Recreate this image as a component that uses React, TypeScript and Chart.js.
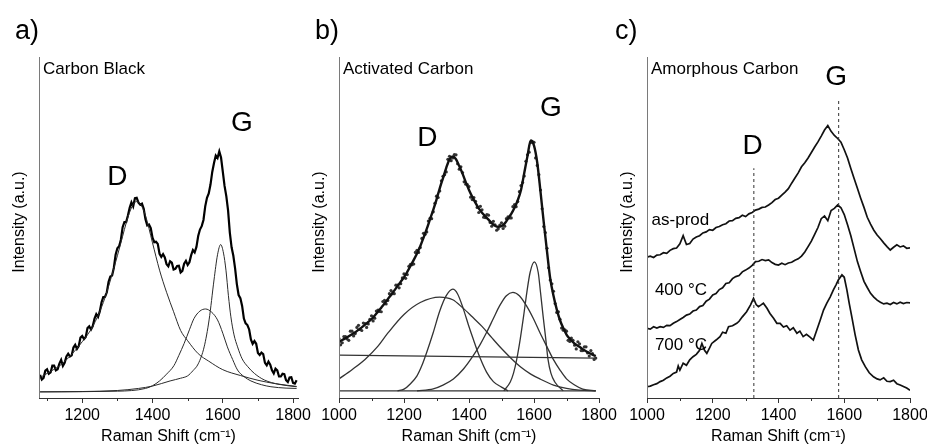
import React, { useEffect, useRef } from 'react';
import { Chart, registerables } from 'chart.js';

Chart.register(...registerables);

const FONT = "'Liberation Sans', Arial, Helvetica, sans-serif";

// ---------------- Panel a) Carbon Black ----------------
const A_X = [1080,1090,1100,1110,1120,1130,1140,1150,1160,1170,1180,1190,1200,1210,1220,1230,1240,1250,1260,1270,1280,1290,1300,1310,1320,1330,1340,1350,1360,1370,1380,1390,1400,1410,1420,1430,1440,1450,1460,1470,1480,1490,1500,1510,1520,1530,1540,1550,1560,1570,1580,1590,1600,1610,1620,1630,1640,1650,1660,1670,1680,1690,1700,1710,1720,1730,1740,1750,1760,1770,1780,1790,1800,1810];
const A_DATA = [6.8,5.9,8.4,7.5,9.5,8.4,11.2,10.3,13.0,12.5,15.6,15.2,18.2,17.9,21.0,21.1,24.6,25.4,29.6,31.0,35.6,38.2,43.9,46.4,51.6,53.5,57.4,58.6,57.3,57.0,52.4,50.9,47.0,45.8,42.3,42.2,39.2,40.1,37.7,38.7,36.8,39.4,39.0,41.9,42.7,47.5,50.4,56.2,60.0,66.3,71.1,72.3,66.4,59.2,48.5,41.7,33.4,29.3,23.3,21.4,17.2,16.7,13.2,13.3,10.3,10.7,8.1,8.6,6.3,7.1,5.2,6.0,4.4,5.2];
const A_X2 = [1085,1095,1105,1115,1125,1135,1145,1155,1165,1175,1185,1195,1205,1215,1225,1235,1245,1255,1265,1275,1285,1295,1305,1315,1325,1335,1345,1355,1365,1375,1385,1395,1405,1415,1425,1435,1445,1455,1465,1475,1485,1495,1505,1515,1525,1535,1545,1555,1565,1575,1585,1595,1605,1615,1625,1635,1645,1655,1665,1675,1685,1695,1705,1715,1725,1735,1745,1755,1765,1775,1785,1795,1805];
const A_DATA2 = [5.4,8.0,7.1,9.5,8.1,10.1,9.4,12.2,12.2,14.8,14.4,17.7,17.3,20.5,20.1,23.3,23.8,28.1,29.7,34.1,35.9,42.0,44.5,50.1,51.6,55.8,56.2,58.7,56.7,55.5,50.6,49.8,45.7,45.2,41.4,41.2,38.6,39.7,37.9,38.8,37.3,40.2,39.8,43.4,44.3,49.4,52.2,58.7,62.6,68.9,70.4,70.5,62.2,55.0,44.2,38.0,30.2,27.0,21.9,20.1,15.9,15.9,12.6,12.9,9.6,9.8,7.2,8.1,6.3,7.0,4.7,6.1,4.2];
const A_D_X = [1080,1110,1140,1170,1200,1230,1260,1290,1310,1330,1345,1355,1365,1380,1400,1420,1440,1460,1480,1500,1530,1560,1600,1650,1700,1750,1810];
const A_D_Y = [6.0,7.8,9.8,12.8,16.5,21.0,28.0,38.0,45.5,53.0,56.8,57.6,57.0,53.5,45.5,37.5,31.0,25.3,19.8,16.8,13.0,10.8,8.3,6.6,5.2,4.2,3.4];
const A_G_X = [1080,1200,1300,1360,1400,1450,1480,1500,1515,1530,1547,1561,1575,1585,1594,1602,1609,1616,1623,1632,1642,1655,1671,1690,1718,1760,1810];
const A_G_Y = [1.8,1.9,2.2,2.8,3.5,5.0,5.8,6.5,8.0,10.0,15.0,22.9,34.6,42.0,45.0,42.5,37.5,30.0,23.8,18.5,15.0,11.5,9.2,7.2,5.3,4.0,3.3];
const A_M_X = [1080,1300,1380,1400,1420,1440,1461,1475,1490,1505,1518,1535,1551,1568,1585,1600,1613,1628,1642,1660,1680,1710,1737,1780,1810];
const A_M_Y = [1.8,2.0,2.8,3.6,5.0,7.0,9.5,12.5,16.0,20.0,23.3,25.5,26.1,25.2,22.9,19.0,15.0,11.3,8.2,6.3,5.0,3.9,3.3,2.9,2.8];

// ---------------- Panel b) Activated Carbon ----------------
const B_X = [1000,1010,1020,1030,1040,1050,1060,1070,1080,1090,1100,1110,1120,1130,1140,1150,1160,1170,1180,1190,1200,1210,1220,1230,1240,1250,1260,1270,1280,1290,1300,1310,1320,1330,1340,1350,1360,1370,1380,1390,1400,1410,1420,1430,1440,1450,1460,1470,1480,1490,1500,1510,1520,1530,1540,1550,1560,1570,1580,1590,1600,1610,1620,1630,1640,1650,1660,1670,1680,1690,1700,1710,1720,1730,1740,1750,1760,1770,1780,1790];
const B_FIT = [16.4,17.0,17.5,18.1,18.7,19.3,20.0,20.7,21.5,22.3,23.1,24.2,25.3,26.5,27.7,29.0,30.2,31.5,32.8,34.1,35.4,37.0,38.7,40.5,42.4,44.5,47.0,49.6,52.4,55.2,58.2,61.5,64.5,67.5,70.0,70.8,70.0,68.0,65.8,63.3,61.0,59.0,57.2,55.6,54.3,53.3,52.3,51.3,50.5,50.2,50.4,51.2,52.6,54.0,55.8,58.0,61.0,66.0,71.0,75.5,74.0,69.0,60.5,51.5,43.0,35.0,30.0,26.0,22.8,20.5,18.6,17.4,16.4,15.6,15.0,14.3,13.7,13.2,12.7,12.3];
const B_PTS = [17.4,16.2,18.0,16.9,19.6,18.9,21.3,19.8,21.8,21.7,24.1,23.4,25.8,25.3,28.6,28.6,31.5,30.6,33.1,33.5,36.4,36.2,39.2,39.3,43.3,44.1,48.3,48.7,52.7,54.6,59.2,60.7,65.0,66.3,70.9,70.4,71.3,67.1,66.1,62.7,62.0,58.2,57.7,54.4,55.2,52.9,53.6,50.4,50.8,49.6,51.4,50.4,53.1,52.8,56.7,57.6,62.3,65.1,71.3,74.9,75.0,68.2,61.0,50.3,43.9,34.6,31.3,25.1,23.1,19.9,19.6,16.6,16.9,14.4,15.9,13.9,15.0,12.3,13.0,11.7];
const B_X2 = [1005,1015,1025,1035,1045,1055,1065,1075,1085,1095,1105,1115,1125,1135,1145,1155,1165,1175,1185,1195,1205,1215,1225,1235,1245,1255,1265,1275,1285,1295,1305,1315,1325,1335,1345,1355,1365,1375,1385,1395,1405,1415,1425,1435,1445,1455,1465,1475,1485,1495,1505,1515,1525,1535,1545,1555,1565,1575,1585,1595,1605,1615,1625,1635,1645,1655,1665,1675,1685,1695,1705,1715,1725,1735,1745,1755,1765,1775,1785];
const B_PTS2 = [15.6,18.0,17.3,19.6,18.2,20.7,20.1,22.0,20.7,23.1,22.6,25.5,25.4,28.3,27.6,30.6,30.6,33.1,32.3,35.2,35.1,38.6,39.1,42.7,42.7,46.8,48.0,51.9,52.6,57.1,58.8,63.7,65.5,70.0,69.6,71.4,68.7,67.8,63.4,62.6,58.9,58.8,55.9,56.2,53.0,53.8,51.5,51.8,49.2,50.7,49.7,52.6,52.8,56.1,56.1,60.5,63.2,69.4,72.1,75.2,70.4,65.5,55.5,48.5,38.2,33.5,27.7,25.3,20.5,20.0,16.9,17.6,15.5,16.5,13.9,15.0,13.2,13.9,11.3];
const B_BASE1_X = [1000,1790];
const B_BASE1_Y = [12.6,11.7];
const B_BASE2_X = [1000,1790];
const B_BASE2_Y = [2.1,2.1];
const B_A_X = [1000,1040,1080,1120,1150,1200,1250,1310,1350,1380,1410,1440,1470,1500,1530,1560,1590,1620,1660,1700,1740,1790];
const B_A_Y = [5.6,8.3,11.3,15.2,19.0,24.5,28.0,29.6,28.8,26.5,23.8,21.0,17.7,14.5,11.6,9.0,7.0,5.5,3.8,2.8,2.3,2.1];
const B_B_X = [1180,1200,1220,1240,1255,1270,1290,1310,1330,1350,1365,1383,1398,1413,1433,1454,1475,1500,1520];
const B_B_Y = [2.1,2.6,4.2,6.5,9.5,13.4,19.2,25.5,30.0,31.9,30.5,26.0,21.5,17.3,12.0,7.6,4.8,3.2,2.1];
const B_C_X = [1240,1290,1320,1352,1383,1413,1435,1454,1475,1494,1515,1535,1555,1577,1598,1618,1640,1659,1680,1700,1725,1750,1790];
const B_C_Y = [2.1,2.7,3.8,5.6,8.5,12.4,15.8,19.2,23.3,27.0,30.0,31.0,30.0,27.0,23.3,19.2,15.0,11.4,8.2,5.6,3.8,2.6,2.1];
const B_D_X = [1507,1527,1537,1547,1558,1568,1578,1588,1601,1613,1620,1628,1636,1643,1652,1664,1690];
const B_D_Y = [2.1,4.7,7.3,11.4,17.5,24.0,31.0,36.8,39.9,36.8,31.0,24.0,17.5,11.4,7.3,4.7,2.1];

// ---------------- Panel c) Amorphous Carbon ----------------
const C_X = [1000,1010,1020,1030,1040,1050,1060,1070,1080,1090,1100,1110,1120,1130,1140,1150,1160,1170,1180,1190,1200,1210,1220,1230,1240,1250,1260,1270,1280,1290,1300,1310,1320,1330,1340,1350,1360,1370,1380,1390,1400,1410,1420,1430,1440,1450,1460,1470,1480,1490,1500,1510,1520,1530,1540,1550,1560,1570,1580,1590,1600,1610,1620,1630,1640,1650,1660,1670,1680,1690,1700,1710,1720,1730,1740,1750,1760,1770,1780,1790,1800];
const C_ASPROD = [41.3,41.6,41.2,41.9,42.0,42.6,42.4,43.3,43.8,44.0,45.2,47.6,45.0,45.3,46.6,47.2,47.6,48.4,48.7,49.4,49.2,50.0,50.3,50.8,51.1,51.9,52.0,52.7,52.9,53.6,53.2,54.0,54.4,55.1,55.4,55.9,56.0,56.6,57.3,58.2,58.6,59.5,60.4,61.4,63.0,64.5,66.0,67.8,69.0,70.4,72.0,73.6,75.1,76.8,78.6,79.9,78.2,77.0,76.1,75.0,72.8,70.4,67.3,64.4,61.5,58.6,55.9,53.0,51.0,49.2,47.8,46.7,45.5,44.4,43.4,44.2,44.9,44.3,44.6,43.9,44.0];
const C_400 = [20.4,20.2,20.9,20.5,20.9,20.7,21.3,21.2,21.9,22.4,23.0,23.6,24.3,24.6,25.5,25.8,26.8,27.1,28.4,29.0,30.2,30.6,31.8,32.3,33.6,33.8,35.0,35.6,35.9,37.0,37.5,38.1,38.9,40.0,40.1,40.6,40.3,40.5,39.7,39.2,39.0,39.5,39.1,39.6,39.8,40.4,40.8,41.6,42.8,44.4,46.0,48.0,50.0,52.6,53.4,52.0,55.0,55.6,56.6,55.8,53.8,50.8,47.6,43.8,40.0,37.0,34.2,32.4,30.7,29.6,28.7,28.1,27.6,27.8,27.4,28.0,27.6,28.1,27.7,28.0,27.9];
const C_700_X = [1000,1010,1020,1030,1040,1050,1060,1070,1080,1090,1095,1100,1110,1120,1130,1140,1150,1160,1167,1175,1182,1190,1197,1210,1222,1230,1240,1248,1260,1273,1280,1290,1303,1315,1324,1332,1339,1347,1354,1365,1374,1385,1395,1405,1415,1425,1435,1445,1456,1465,1475,1485,1495,1506,1516,1527,1537,1547,1557,1567,1575,1582,1593,1600,1608,1615,1623,1633,1643,1653,1664,1676,1689,1700,1709,1720,1730,1740,1750,1760,1770,1780,1790,1800];
const C_700 = [3.3,3.5,3.9,4.2,4.8,5.2,5.9,6.4,7.2,7.6,9.4,8.2,10.2,9.6,11.2,12.1,12.8,14.0,16.0,14.0,13.1,14.6,16.0,17.0,18.0,19.3,19.0,20.9,21.2,21.9,22.5,23.8,25.3,27.3,29.2,27.4,26.8,27.3,27.8,26.3,24.8,23.4,21.9,21.9,20.8,21.2,19.9,20.6,19.0,19.6,18.0,18.7,17.9,17.0,19.8,22.9,25.8,27.8,29.6,31.7,33.2,34.6,36.1,35.4,31.7,27.8,23.8,18.6,14.1,11.2,9.2,7.4,6.2,5.6,5.3,5.9,4.9,4.8,5.2,4.2,3.8,3.4,2.9,2.3];
const C_DLINE_X = [1325,1325];
const C_DLINE_Y = [0,67.4];
const C_GLINE_X = [1583,1583];
const C_GLINE_Y = [0,87.4];

const MAJORS_A = [1200,1400,1600,1800];
const MINORS_A = [1100,1300,1500,1700];
const MAJORS_BC = [1000,1200,1400,1600,1800];
const MINORS_BC = [1100,1300,1500,1700];

type Series = {
  xs: number[]; ys: number[]; color: string; width: number;
  dash?: number[]; smooth?: boolean; points?: number;
};
type Label = { text: string; x: number; y: number; size: number; align: CanvasTextAlign };
type Spec = {
  xMin: number; xMax: number; majors: number[]; minors: number[];
  padLeft: number; padRight: number; letter: string; letterX: number;
  title: string; series: Series[]; labels: Label[];
};

// merge two sampled traces into one ordered trace (for a denser noisy spectrum)
function merge(x1: number[], y1: number[], x2: number[], y2: number[]) {
  const pts = x1.map((x, i) => [x, y1[i]]).concat(x2.map((x, i) => [x, y2[i]]));
  pts.sort((a, b) => a[0] - b[0]);
  return { xs: pts.map((p) => p[0]), ys: pts.map((p) => p[1]) };
}
const A_MERGED = merge(A_X, A_DATA, A_X2, A_DATA2);

const SPECS: Spec[] = [
  {
    xMin: 1077, xMax: 1814, majors: MAJORS_A, minors: MINORS_A,
    padLeft: 39, padRight: 629, letter: 'a)', letterX: 15, title: 'Carbon Black',
    series: [
      { xs: A_M_X, ys: A_M_Y, color: '#2a2a2a', width: 1, smooth: true },
      { xs: A_G_X, ys: A_G_Y, color: '#2a2a2a', width: 1, smooth: true },
      { xs: A_D_X, ys: A_D_Y, color: '#2a2a2a', width: 1, smooth: true },
      { xs: A_MERGED.xs, ys: A_MERGED.ys, color: '#000', width: 2.2 },
    ],
    labels: [
      { text: 'D', x: 1300, y: 64.8, size: 28, align: 'center' },
      { text: 'G', x: 1654, y: 80.6, size: 28, align: 'center' },
    ],
  },
  {
    xMin: 1000, xMax: 1800, majors: MAJORS_BC, minors: MINORS_BC,
    padLeft: 339, padRight: 328, letter: 'b)', letterX: 315, title: 'Activated Carbon',
    series: [
      { xs: B_BASE1_X, ys: B_BASE1_Y, color: '#333', width: 1.3 },
      { xs: B_BASE2_X, ys: B_BASE2_Y, color: '#333', width: 1.3 },
      { xs: B_A_X, ys: B_A_Y, color: '#333', width: 1.3, smooth: true },
      { xs: B_B_X, ys: B_B_Y, color: '#333', width: 1.3, smooth: true },
      { xs: B_C_X, ys: B_C_Y, color: '#333', width: 1.3, smooth: true },
      { xs: B_D_X, ys: B_D_Y, color: '#333', width: 1.3, smooth: true },
      { xs: B_X, ys: B_FIT, color: '#111', width: 2.4, smooth: true },
      { xs: B_X, ys: B_PTS, color: '#333', width: 0, points: 1.6 },
      { xs: B_X2, ys: B_PTS2, color: '#333', width: 0, points: 1.6 },
    ],
    labels: [
      { text: 'D', x: 1272, y: 76.3, size: 28, align: 'center' },
      { text: 'G', x: 1652, y: 85.1, size: 28, align: 'center' },
    ],
  },
  {
    xMin: 1000, xMax: 1800, majors: MAJORS_BC, minors: MINORS_BC,
    padLeft: 647, padRight: 17, letter: 'c)', letterX: 615, title: 'Amorphous Carbon',
    series: [
      { xs: C_DLINE_X, ys: C_DLINE_Y, color: '#333', width: 1, dash: [3, 3] },
      { xs: C_GLINE_X, ys: C_GLINE_Y, color: '#333', width: 1, dash: [3, 3] },
      { xs: C_X, ys: C_ASPROD, color: '#111', width: 1.7 },
      { xs: C_X, ys: C_400, color: '#111', width: 1.7 },
      { xs: C_700_X, ys: C_700, color: '#111', width: 1.7 },
    ],
    labels: [
      { text: 'G', x: 1575, y: 94, size: 28, align: 'center' },
      { text: 'D', x: 1321, y: 73.7, size: 28, align: 'center' },
      { text: 'as-prod', x: 1014, y: 52.2, size: 17, align: 'left' },
      { text: '400 °C', x: 1024, y: 31.7, size: 17, align: 'left' },
      { text: '700 °C', x: 1024, y: 15.5, size: 17, align: 'left' },
    ],
  },
];

function makeOverlay(spec: Spec) {
  return {
    id: 'overlay',
    afterDraw(chart: any) {
      const { ctx, chartArea: ca, scales } = chart;
      const xs = scales.x;
      const ys = scales.y;
      ctx.save();
      // y axis line
      const lx = Math.round(ca.left) + 0.5;
      ctx.strokeStyle = '#7a7a7a';
      ctx.lineWidth = 1;
      ctx.beginPath();
      ctx.moveTo(lx, ca.top);
      ctx.lineTo(lx, ca.bottom);
      ctx.stroke();
      // minor ticks
      ctx.strokeStyle = '#333';
      ctx.beginPath();
      for (const v of spec.minors) {
        const px = Math.round(xs.getPixelForValue(v)) + 0.5;
        ctx.moveTo(px, ca.bottom);
        ctx.lineTo(px, ca.bottom + 3);
      }
      ctx.stroke();
      ctx.fillStyle = '#000';
      ctx.textBaseline = 'middle';
      // y title
      ctx.save();
      ctx.translate(ca.left - 19, 222);
      ctx.rotate(-Math.PI / 2);
      ctx.textAlign = 'center';
      ctx.font = `16px ${FONT}`;
      ctx.fillText('Intensity (a.u.)', 0, 0);
      ctx.restore();
      // panel letter
      ctx.textAlign = 'left';
      ctx.font = `27px ${FONT}`;
      ctx.fillText(spec.letter, spec.letterX, 32);
      // panel title
      ctx.font = `17px ${FONT}`;
      ctx.fillText(spec.title, ca.left + 4, ca.top + 12);
      // labels
      for (const l of spec.labels) {
        ctx.font = `${l.size}px ${FONT}`;
        ctx.textAlign = l.align;
        ctx.fillText(l.text, xs.getPixelForValue(l.x), ys.getPixelForValue(l.y));
      }
      ctx.restore();
    },
  };
}

function Panel({ spec }: { spec: Spec }) {
  const ref = useRef<HTMLCanvasElement | null>(null);
  useEffect(() => {
    if (!ref.current) return;
    const datasets = spec.series.map((s) => ({
      data: s.xs.map((x, i) => ({ x, y: s.ys[i] })),
      borderColor: s.color,
      backgroundColor: s.color,
      borderWidth: s.width,
      borderDash: s.dash || [],
      pointRadius: s.points ? s.points : 0,
      pointBorderWidth: 0,
      showLine: !s.points,
      tension: s.smooth ? 0.4 : 0,
      cubicInterpolationMode: s.smooth ? 'monotone' : 'default',
      fill: false,
    }));
    const chart = new Chart(ref.current, {
      type: 'line',
      data: { datasets },
      plugins: [makeOverlay(spec)],
      options: {
        responsive: false,
        animation: false,
        events: [],
        layout: { padding: { left: spec.padLeft, right: spec.padRight, top: 57, bottom: 0 } },
        plugins: { legend: { display: false }, tooltip: { enabled: false } },
        scales: {
          x: {
            type: 'linear',
            min: spec.xMin,
            max: spec.xMax,
            afterBuildTicks: (sc: any) => {
              sc.ticks = spec.majors.map((v) => ({ value: v }));
            },
            afterFit: (sc: any) => {
              sc.paddingLeft = 0;
              sc.paddingRight = 0;
            },
            ticks: {
              autoSkip: false,
              maxRotation: 0,
              minRotation: 0,
              padding: 5,
              color: '#000',
              font: { family: FONT, size: 16, lineHeight: 1 },
              callback: (v: any) => String(v),
            },
            grid: { display: true, drawOnChartArea: false, drawTicks: true, tickLength: 5, tickColor: '#333', tickWidth: 1 },
            border: { display: true, color: '#333', width: 1 },
            title: {
              display: true,
              text: 'Raman Shift (cm⁻¹)',
              color: '#000',
              font: { family: FONT, size: 16, lineHeight: 1 },
              padding: { top: 0, bottom: 0 },
            },
          },
          y: { type: 'linear', min: 0, max: 100, display: false },
        },
      } as any,
    });
    return () => chart.destroy();
  }, [spec]);
  return (
    <canvas
      ref={ref}
      width={927}
      height={445}
      style={{ position: 'absolute', left: 0, top: 0, width: 927, height: 445 }}
    />
  );
}

export default function App() {
  useEffect(() => {
    document.body.style.margin = '0';
    document.body.style.overflow = 'hidden';
  }, []);
  return (
    <div style={{ position: 'fixed', left: 0, top: 0, width: 927, height: 445, background: '#fff', overflow: 'hidden' }}>
      {SPECS.map((s, i) => (
        <Panel key={i} spec={s} />
      ))}
    </div>
  );
}
